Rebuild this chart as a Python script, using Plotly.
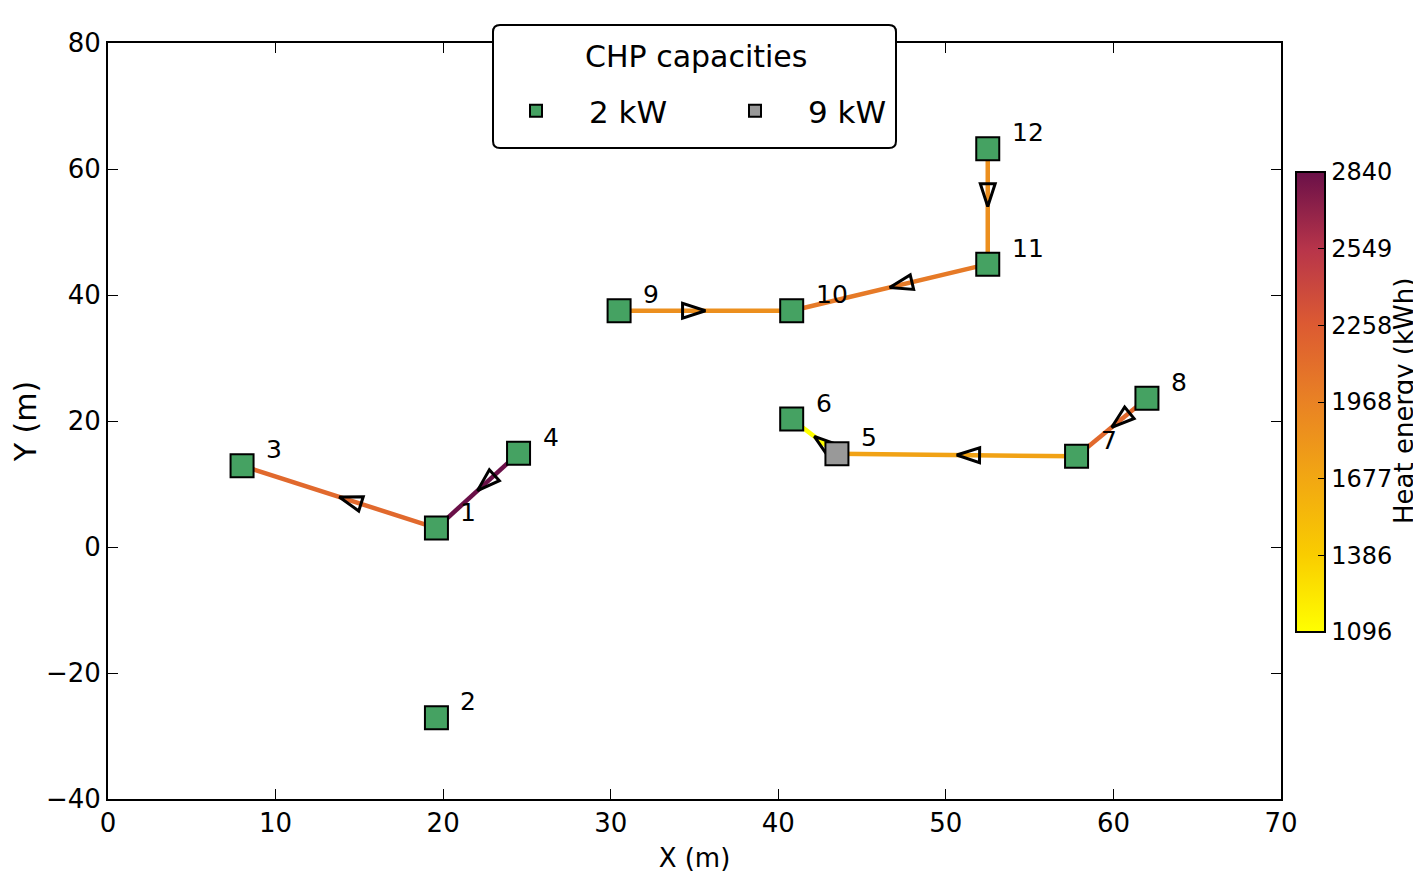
import plotly.graph_objects as go
from plotly.colors import sample_colorscale

# ---- data ----
node_ids = [1, 2, 3, 4, 5, 6, 7, 8, 9, 10, 11, 12]
node_x = [19.6, 19.6, 8.0, 24.5, 43.5, 40.8, 57.8, 62.0, 30.5, 40.8, 52.5, 52.5]
node_y = [3.0, -27.1, 12.9, 14.9, 14.8, 20.3, 14.4, 23.6, 37.5, 37.5, 44.9, 63.2]
node_cap = [2, 2, 2, 2, 9, 2, 2, 2, 2, 2, 2, 2]

edge_from = [1, 4, 5, 7, 8, 9, 11, 12]
edge_to = [3, 1, 6, 5, 7, 10, 10, 11]
edge_heat = [2150, 2840, 1096, 1720, 2150, 1870, 2030, 1870]

cbar_ticks = [1096, 1386, 1677, 1968, 2258, 2549, 2840]
heat_min, heat_max = 1096, 2840

xticks = [0, 10, 20, 30, 40, 50, 60, 70]
yticks = [-40, -20, 0, 20, 40, 60, 80]

colorscale = [
    [0.0, "#ffff00"],
    [0.17, "#f9cc00"],
    [0.33, "#f2a812"],
    [0.5, "#e98224"],
    [0.67, "#dc5a32"],
    [0.83, "#b8354a"],
    [1.0, "#6a1048"],
]

FONT = "DejaVu Sans"
FS = 26

# page offset (body margin) and plot-area geometry in pixels
OFF = 8
W, H = 1421, 873
ML, MR, MT, MB = 108 - OFF, 140 + OFF, 43 - OFF, 74 + OFF
PW, PH = W - ML - MR, H - MT - MB


def px2paper(px, py):
    # px, py are screen pixels (photo coordinates)
    return (px - OFF - ML) / PW, (H - MB - (py - OFF)) / PH


fig = go.Figure()

pos = {n: (x, y) for n, x, y in zip(node_ids, node_x, node_y)}

# edges
for a, b, h in zip(edge_from, edge_to, edge_heat):
    t = (h - heat_min) / (heat_max - heat_min)
    col = sample_colorscale(colorscale, [t])[0]
    x0, y0 = pos[a]
    x1, y1 = pos[b]
    fig.add_trace(go.Scatter(x=[x0, x1], y=[y0, y1], mode="lines",
                             line=dict(color=col, width=4.5),
                             showlegend=False, hoverinfo="skip"))
    xm, ym = (x0 + x1) / 2, (y0 + y1) / 2
    fig.add_trace(go.Scatter(x=[x0, xm], y=[y0, ym], mode="markers",
                             marker=dict(symbol=["circle", "arrow-open"],
                                         size=[0, 24], angleref="previous",
                                         color="black", opacity=1,
                                         line=dict(color="black", width=3)),
                             showlegend=False, hoverinfo="skip"))

# colorbar dummy trace
fig.add_trace(go.Scatter(
    x=[None], y=[None], mode="markers",
    marker=dict(color=[heat_min], cmin=heat_min, cmax=heat_max,
                colorscale=colorscale, showscale=True,
                colorbar=dict(
                    x=px2paper(1296, 0)[0], xanchor="left", xpad=0,
                    y=px2paper(0, 402)[1], yanchor="middle",
                    len=460 / PH, lenmode="fraction", thickness=29, ypad=0,
                    outlinewidth=2, outlinecolor="black",
                    tickvals=cbar_ticks, ticktext=[str(v) for v in cbar_ticks],
                    ticks="inside", ticklen=8, tickcolor="black", tickwidth=1,
                    tickfont=dict(family=FONT, size=24, color="black"),
                )),
    showlegend=False, hoverinfo="skip"))

# colorbar title
ctx, cty = px2paper(1404, 401)
fig.add_annotation(x=ctx, y=cty, xref="paper", yref="paper", text="Heat energy (kWh)",
                   textangle=-90, showarrow=False, xanchor="center", yanchor="middle",
                   font=dict(family=FONT, size=26, color="black"))

# nodes
caps = [(2, "#45a262", "2 kW"), (9, "#999999", "9 kW")]
for cap, col, name in caps:
    xs = [x for x, c in zip(node_x, node_cap) if c == cap]
    ys = [y for y, c in zip(node_y, node_cap) if c == cap]
    fig.add_trace(go.Scatter(x=xs, y=ys, mode="markers", name=name,
                             marker=dict(symbol="square", size=23, color=col,
                                         line=dict(color="black", width=2))))

# node labels
for n, x, y in zip(node_ids, node_x, node_y):
    fig.add_annotation(x=x, y=y, text=str(n), showarrow=False,
                       xshift=22, yshift=16, xanchor="left", yanchor="middle",
                       font=dict(family=FONT, size=25, color="black"))

# legend box (rounded) + title
bx0, by0 = px2paper(493, 148)
bx1, by1 = px2paper(896, 25)
rx, ry = 7 / PW, 7 / PH
path = (f"M {bx0+rx},{by0} L {bx1-rx},{by0} Q {bx1},{by0} {bx1},{by0+ry} "
        f"L {bx1},{by1-ry} Q {bx1},{by1} {bx1-rx},{by1} L {bx0+rx},{by1} "
        f"Q {bx0},{by1} {bx0},{by1-ry} L {bx0},{by0+ry} Q {bx0},{by0} {bx0+rx},{by0} Z")
fig.add_shape(type="path", path=path, xref="paper", yref="paper",
              fillcolor="white", line=dict(color="black", width=2), layer="above")
tx, ty = px2paper(696, 56)
fig.add_annotation(x=tx, y=ty, xref="paper", yref="paper", text="CHP capacities",
                   showarrow=False, xanchor="center", yanchor="middle",
                   font=dict(family=FONT, size=30, color="black"))

axis_common = dict(showline=True, linecolor="black", linewidth=2, mirror="ticks",
                   ticks="inside", ticklen=10, tickcolor="black", tickwidth=1,
                   showgrid=False, zeroline=False,
                   tickfont=dict(family=FONT, size=FS, color="black"))

fig.update_xaxes(range=[0, 70], tickvals=xticks, ticktext=[str(v) for v in xticks],
                 title=dict(text="X (m)", font=dict(family=FONT, size=26, color="black"), standoff=12),
                 **axis_common)
fig.update_yaxes(range=[-40, 80], tickvals=yticks,
                 ticktext=[str(v).replace("-", "\u2212") for v in yticks],
                 title=dict(text="Y (m)", font=dict(family=FONT, size=30, color="black"), standoff=14),
                 **axis_common)

lx, ly = px2paper(483, 111)
fig.update_layout(
    width=W, height=H,
    margin=dict(l=ML, r=MR, t=MT, b=MB, autoexpand=False),
    plot_bgcolor="white", paper_bgcolor="white",
    legend=dict(orientation="h", x=lx, xanchor="left", y=ly, yanchor="middle",
                bgcolor="rgba(0,0,0,0)", borderwidth=0,
                font=dict(family=FONT, size=31, color="black"),
                itemsizing="constant", entrywidth=108, entrywidthmode="pixels",
                itemwidth=96),
)

fig.write_html("out.html")
